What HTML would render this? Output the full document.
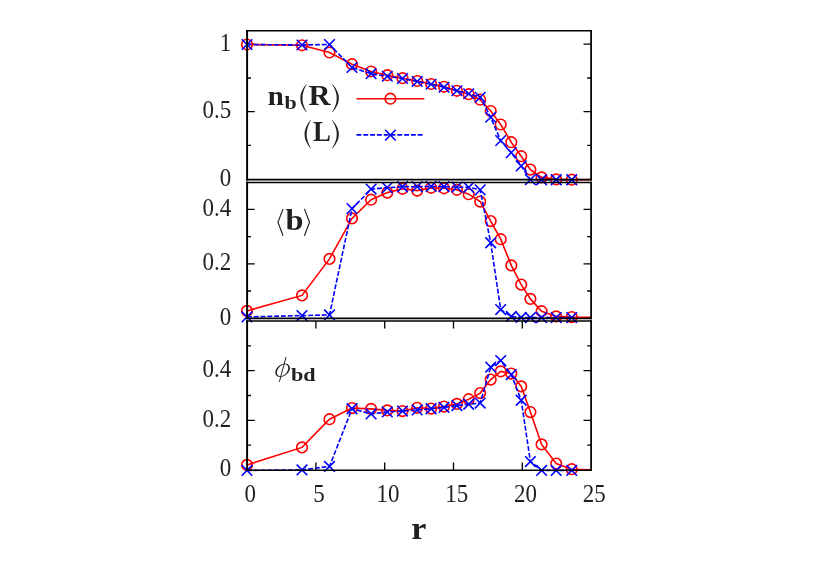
<!DOCTYPE html>
<html><head><meta charset="utf-8"><title>chart</title>
<style>
html,body{margin:0;padding:0;background:#fff;}
body{width:830px;height:583px;overflow:hidden;font-family:"Liberation Serif",serif;}
svg{display:block;}
text{font-family:"Liberation Serif",serif;fill:#231f20;}
.fb{stroke:#231f20;stroke-width:0.75px;stroke-linejoin:round;}
.b{font-weight:bold;}
.i{font-style:italic;}
</style></head><body>
<svg width="830" height="583" viewBox="0 0 830 583">
<rect width="830" height="583" fill="#fff"/>

<path d="M247.1 44.2h7.6M591.1 44.2h-7.6M247.1 111.7h7.6M591.1 111.7h-7.6M247.1 78.0h3.9M591.1 78.0h-3.9M247.1 145.4h3.9M591.1 145.4h-3.9" stroke="#000" stroke-width="1.3" fill="none"/>
<path d="M247.1 209.4h7.6M591.1 209.4h-7.6M247.1 263.8h7.6M591.1 263.8h-7.6M247.1 236.6h3.9M591.1 236.6h-3.9M247.1 291.0h3.9M591.1 291.0h-3.9" stroke="#000" stroke-width="1.3" fill="none"/>
<path d="M247.1 370.6h7.6M591.1 370.6h-7.6M247.1 420.4h7.6M591.1 420.4h-7.6M247.1 345.8h3.9M591.1 345.8h-3.9M247.1 395.5h3.9M591.1 395.5h-3.9M247.1 445.2h3.9M591.1 445.2h-3.9" stroke="#000" stroke-width="1.3" fill="none"/>
<path d="M315.9 470.2v-7.6M315.9 321.0v7.6M384.7 470.2v-7.6M384.7 321.0v7.6M453.5 470.2v-7.6M453.5 321.0v7.6M522.3 470.2v-7.6M522.3 321.0v7.6" stroke="#000" stroke-width="1.3" fill="none"/>
<polyline points="247.0,44.5 302.0,45.3 329.5,52.5 352.0,64.2 371.1,71.5 387.3,75.2 402.5,78.2 417.2,81.0 431.1,84.0 444.0,86.8 456.9,90.8 468.7,94.2 480.2,99.7 490.7,111.0 500.7,124.5 511.3,142.2 521.2,156.2 530.4,169.6 541.6,177.4 556.2,179.4 571.7,179.7 591.1,179.6" fill="none" stroke="#ff0000" stroke-width="1.6"/>
<g fill="none" stroke="#ff0000" stroke-width="1.6"><circle cx="247.0" cy="44.5" r="5.3"/><circle cx="302.0" cy="45.3" r="5.3"/><circle cx="329.5" cy="52.5" r="5.3"/><circle cx="352.0" cy="64.2" r="5.3"/><circle cx="371.1" cy="71.5" r="5.3"/><circle cx="387.3" cy="75.2" r="5.3"/><circle cx="402.5" cy="78.2" r="5.3"/><circle cx="417.2" cy="81.0" r="5.3"/><circle cx="431.1" cy="84.0" r="5.3"/><circle cx="444.0" cy="86.8" r="5.3"/><circle cx="456.9" cy="90.8" r="5.3"/><circle cx="468.7" cy="94.2" r="5.3"/><circle cx="480.2" cy="99.7" r="5.3"/><circle cx="490.7" cy="111.0" r="5.3"/><circle cx="500.7" cy="124.5" r="5.3"/><circle cx="511.3" cy="142.2" r="5.3"/><circle cx="521.2" cy="156.2" r="5.3"/><circle cx="530.4" cy="169.6" r="5.3"/><circle cx="541.6" cy="177.4" r="5.3"/><circle cx="556.2" cy="179.4" r="5.3"/><circle cx="571.7" cy="179.7" r="5.3"/></g>
<polyline points="247.0,44.5 302.0,45.0 329.5,44.5 352.0,67.5 371.1,73.7 387.3,76.2 402.5,78.5 417.2,81.5 431.1,84.2 444.0,87.2 456.9,90.8 468.7,93.8 480.2,97.2 490.7,117.2 500.7,140.7 511.3,152.7 521.2,165.9 530.4,179.7 541.6,179.8 556.2,179.8 571.7,179.8" fill="none" stroke="#0000ff" stroke-width="1.6" stroke-dasharray="4.9 1.9"/>
<g fill="none" stroke="#0000ff" stroke-width="1.6"><path d="M241.7 39.2L252.3 49.8M241.7 49.8L252.3 39.2"/><path d="M296.7 39.7L307.3 50.2M296.7 50.2L307.3 39.7"/><path d="M324.2 39.2L334.8 49.8M324.2 49.8L334.8 39.2"/><path d="M346.7 62.2L357.3 72.8M346.7 72.8L357.3 62.2"/><path d="M365.8 68.4L376.4 79.0M365.8 79.0L376.4 68.4"/><path d="M382.0 71.0L392.6 81.5M382.0 81.5L392.6 71.0"/><path d="M397.2 73.2L407.8 83.8M397.2 83.8L407.8 73.2"/><path d="M411.9 76.2L422.5 86.8M411.9 86.8L422.5 76.2"/><path d="M425.8 79.0L436.4 89.5M425.8 89.5L436.4 79.0"/><path d="M438.7 82.0L449.3 92.5M438.7 92.5L449.3 82.0"/><path d="M451.6 85.5L462.2 96.0M451.6 96.0L462.2 85.5"/><path d="M463.4 88.5L474.0 99.0M463.4 99.0L474.0 88.5"/><path d="M474.9 92.0L485.5 102.5M474.9 102.5L485.5 92.0"/><path d="M485.4 112.0L496.0 122.5M485.4 122.5L496.0 112.0"/><path d="M495.4 135.3L506.0 146.0M495.4 146.0L506.0 135.3"/><path d="M506.0 147.3L516.6 158.0M506.0 158.0L516.6 147.3"/><path d="M515.9 160.6L526.5 171.2M515.9 171.2L526.5 160.6"/><path d="M525.1 174.3L535.7 185.0M525.1 185.0L535.7 174.3"/><path d="M536.3 174.4L546.9 185.1M536.3 185.1L546.9 174.4"/><path d="M550.9 174.4L561.5 185.1M550.9 185.1L561.5 174.4"/><path d="M566.4 174.4L577.0 185.1M566.4 185.1L577.0 174.4"/></g>
<polyline points="247.0,310.9 302.0,295.4 329.5,258.9 352.0,218.4 371.1,199.7 387.3,192.6 402.5,188.8 417.2,190.6 431.1,187.8 444.0,188.3 456.9,189.8 468.7,194.2 480.2,201.6 490.7,221.1 500.7,239.2 511.3,265.4 521.2,284.6 530.4,298.9 541.6,311.2 556.2,316.4 571.7,317.1 591.1,317.4" fill="none" stroke="#ff0000" stroke-width="1.6"/>
<g fill="none" stroke="#ff0000" stroke-width="1.6"><circle cx="247.0" cy="310.9" r="5.3"/><circle cx="302.0" cy="295.4" r="5.3"/><circle cx="329.5" cy="258.9" r="5.3"/><circle cx="352.0" cy="218.4" r="5.3"/><circle cx="371.1" cy="199.7" r="5.3"/><circle cx="387.3" cy="192.6" r="5.3"/><circle cx="402.5" cy="188.8" r="5.3"/><circle cx="417.2" cy="190.6" r="5.3"/><circle cx="431.1" cy="187.8" r="5.3"/><circle cx="444.0" cy="188.3" r="5.3"/><circle cx="456.9" cy="189.8" r="5.3"/><circle cx="468.7" cy="194.2" r="5.3"/><circle cx="480.2" cy="201.6" r="5.3"/><circle cx="490.7" cy="221.1" r="5.3"/><circle cx="500.7" cy="239.2" r="5.3"/><circle cx="511.3" cy="265.4" r="5.3"/><circle cx="521.2" cy="284.6" r="5.3"/><circle cx="530.4" cy="298.9" r="5.3"/><circle cx="541.6" cy="311.2" r="5.3"/><circle cx="556.2" cy="316.4" r="5.3"/><circle cx="571.7" cy="317.1" r="5.3"/></g>
<polyline points="247.0,316.9 302.0,315.6 329.5,314.9 352.0,208.7 371.1,189.1 387.3,187.7 402.5,186.8 417.2,186.7 431.1,186.3 444.0,186.7 456.9,187.2 468.7,187.3 480.2,189.8 490.7,242.8 500.7,309.6 511.3,316.4 521.2,317.4 530.4,317.6 541.6,317.6 556.2,317.6 571.7,317.6" fill="none" stroke="#0000ff" stroke-width="1.6" stroke-dasharray="4.9 1.9"/>
<g fill="none" stroke="#0000ff" stroke-width="1.6"><path d="M241.7 311.6L252.3 322.2M241.7 322.2L252.3 311.6"/><path d="M296.7 310.2L307.3 320.9M296.7 320.9L307.3 310.2"/><path d="M324.2 309.6L334.8 320.2M324.2 320.2L334.8 309.6"/><path d="M346.7 203.3L357.3 214.0M346.7 214.0L357.3 203.3"/><path d="M365.8 183.8L376.4 194.4M365.8 194.4L376.4 183.8"/><path d="M382.0 182.3L392.6 193.0M382.0 193.0L392.6 182.3"/><path d="M397.2 181.4L407.8 192.1M397.2 192.1L407.8 181.4"/><path d="M411.9 181.3L422.5 192.0M411.9 192.0L422.5 181.3"/><path d="M425.8 181.0L436.4 191.7M425.8 191.7L436.4 181.0"/><path d="M438.7 181.3L449.3 192.0M438.7 192.0L449.3 181.3"/><path d="M451.6 181.8L462.2 192.5M451.6 192.5L462.2 181.8"/><path d="M463.4 182.0L474.0 192.7M463.4 192.7L474.0 182.0"/><path d="M474.9 184.5L485.5 195.2M474.9 195.2L485.5 184.5"/><path d="M485.4 237.4L496.0 248.1M485.4 248.1L496.0 237.4"/><path d="M495.4 304.3L506.0 314.9M495.4 314.9L506.0 304.3"/><path d="M506.0 311.1L516.6 321.7M506.0 321.7L516.6 311.1"/><path d="M515.9 312.1L526.5 322.8M515.9 322.8L526.5 312.1"/><path d="M525.1 312.3L535.7 322.9M525.1 322.9L535.7 312.3"/><path d="M536.3 312.3L546.9 322.9M536.3 322.9L546.9 312.3"/><path d="M550.9 312.3L561.5 322.9M550.9 322.9L561.5 312.3"/><path d="M566.4 312.3L577.0 322.9M566.4 322.9L577.0 312.3"/></g>
<polyline points="247.0,464.9 302.0,447.4 329.5,419.2 352.0,408.1 371.1,408.9 387.3,410.4 402.5,411.1 417.2,407.8 431.1,408.6 444.0,406.6 456.9,403.9 468.7,399.2 480.2,393.1 490.7,379.6 500.7,371.4 511.3,373.6 521.2,386.4 530.4,412.1 541.6,444.4 556.2,463.6 571.7,469.2 591.1,469.9" fill="none" stroke="#ff0000" stroke-width="1.6"/>
<g fill="none" stroke="#ff0000" stroke-width="1.6"><circle cx="247.0" cy="464.9" r="5.3"/><circle cx="302.0" cy="447.4" r="5.3"/><circle cx="329.5" cy="419.2" r="5.3"/><circle cx="352.0" cy="408.1" r="5.3"/><circle cx="371.1" cy="408.9" r="5.3"/><circle cx="387.3" cy="410.4" r="5.3"/><circle cx="402.5" cy="411.1" r="5.3"/><circle cx="417.2" cy="407.8" r="5.3"/><circle cx="431.1" cy="408.6" r="5.3"/><circle cx="444.0" cy="406.6" r="5.3"/><circle cx="456.9" cy="403.9" r="5.3"/><circle cx="468.7" cy="399.2" r="5.3"/><circle cx="480.2" cy="393.1" r="5.3"/><circle cx="490.7" cy="379.6" r="5.3"/><circle cx="500.7" cy="371.4" r="5.3"/><circle cx="511.3" cy="373.6" r="5.3"/><circle cx="521.2" cy="386.4" r="5.3"/><circle cx="530.4" cy="412.1" r="5.3"/><circle cx="541.6" cy="444.4" r="5.3"/><circle cx="556.2" cy="463.6" r="5.3"/><circle cx="571.7" cy="469.2" r="5.3"/></g>
<polyline points="247.0,470.4 302.0,469.9 329.5,466.4 352.0,408.8 371.1,413.9 387.3,411.9 402.5,411.1 417.2,409.9 431.1,408.8 444.0,407.4 456.9,405.6 468.7,404.2 480.2,403.1 490.7,367.1 500.7,360.6 511.3,374.6 521.2,400.2 530.4,461.6 541.6,470.4 556.2,470.4 571.7,470.4" fill="none" stroke="#0000ff" stroke-width="1.6" stroke-dasharray="4.9 1.9"/>
<g fill="none" stroke="#0000ff" stroke-width="1.6"><path d="M241.7 465.1L252.3 475.7M241.7 475.7L252.3 465.1"/><path d="M296.7 464.6L307.3 475.2M296.7 475.2L307.3 464.6"/><path d="M324.2 461.1L334.8 471.8M324.2 471.8L334.8 461.1"/><path d="M346.7 403.4L357.3 414.1M346.7 414.1L357.3 403.4"/><path d="M365.8 408.6L376.4 419.2M365.8 419.2L376.4 408.6"/><path d="M382.0 406.6L392.6 417.2M382.0 417.2L392.6 406.6"/><path d="M397.2 405.8L407.8 416.4M397.2 416.4L407.8 405.8"/><path d="M411.9 404.6L422.5 415.2M411.9 415.2L422.5 404.6"/><path d="M425.8 403.4L436.4 414.1M425.8 414.1L436.4 403.4"/><path d="M438.7 402.1L449.3 412.8M438.7 412.8L449.3 402.1"/><path d="M451.6 400.2L462.2 410.9M451.6 410.9L462.2 400.2"/><path d="M463.4 398.9L474.0 409.6M463.4 409.6L474.0 398.9"/><path d="M474.9 397.8L485.5 408.4M474.9 408.4L485.5 397.8"/><path d="M485.4 361.8L496.0 372.4M485.4 372.4L496.0 361.8"/><path d="M495.4 355.3L506.0 365.9M495.4 365.9L506.0 355.3"/><path d="M506.0 369.2L516.6 379.9M506.0 379.9L516.6 369.2"/><path d="M515.9 394.9L526.5 405.6M515.9 405.6L526.5 394.9"/><path d="M525.1 456.2L535.7 466.9M525.1 466.9L535.7 456.2"/><path d="M536.3 465.1L546.9 475.8M536.3 475.8L546.9 465.1"/><path d="M550.9 465.1L561.5 475.8M550.9 475.8L561.5 465.1"/><path d="M566.4 465.1L577.0 475.8M566.4 475.8L577.0 465.1"/></g>
<path d="M356.5 98.7H424.3" stroke="#ff0000" stroke-width="1.6" fill="none"/>
<circle cx="390.4" cy="98.7" r="5.3" fill="none" stroke="#ff0000" stroke-width="1.6"/>
<path d="M356.5 134.9H423.5" stroke="#0000ff" stroke-width="1.6" stroke-dasharray="4.9 1.9" fill="none"/>
<g fill="none" stroke="#0000ff" stroke-width="1.6"><path d="M385.1 129.8L395.7 140.5M385.1 140.5L395.7 129.8"/></g>
<path d="M246.12 30.7H591.98" stroke="#000" stroke-width="1.5" fill="none"/>
<path d="M246.12 179.6H591.98" stroke="#000" stroke-width="1.9" fill="none"/>
<path d="M246.12 182.4H591.98" stroke="#000" stroke-width="1.5" fill="none"/>
<path d="M246.12 318.4H591.98" stroke="#000" stroke-width="1.8" fill="none"/>
<path d="M246.12 321.0H591.98" stroke="#000" stroke-width="1.6" fill="none"/>
<path d="M246.12 470.2H591.98" stroke="#000" stroke-width="1.5" fill="none"/>
<path d="M247.1 29.95V180.54999999999998" stroke="#000" stroke-width="1.95" fill="none"/>
<path d="M591.1 29.95V180.54999999999998" stroke="#000" stroke-width="1.75" fill="none"/>
<path d="M247.1 181.65V319.29999999999995" stroke="#000" stroke-width="1.95" fill="none"/>
<path d="M591.1 181.65V319.29999999999995" stroke="#000" stroke-width="1.75" fill="none"/>
<path d="M247.1 320.2V470.95" stroke="#000" stroke-width="1.95" fill="none"/>
<path d="M591.1 320.2V470.95" stroke="#000" stroke-width="1.75" fill="none"/>
<g opacity="0.999">
<text transform="translate(231.30 50.50) scale(0.945 1.0)" font-size="24.3" text-anchor="end">1</text>
<text transform="translate(231.30 117.90) scale(0.945 1.0)" font-size="24.3" text-anchor="end">0.5</text>
<text transform="translate(231.30 186.00) scale(0.945 1.0)" font-size="24.3" text-anchor="end">0</text>
<text transform="translate(231.30 216.00) scale(0.945 1.0)" font-size="24.3" text-anchor="end">0.4</text>
<text transform="translate(231.30 270.40) scale(0.945 1.0)" font-size="24.3" text-anchor="end">0.2</text>
<text transform="translate(231.30 324.60) scale(0.945 1.0)" font-size="24.3" text-anchor="end">0</text>
<text transform="translate(231.30 377.40) scale(0.945 1.0)" font-size="24.3" text-anchor="end">0.4</text>
<text transform="translate(231.30 427.00) scale(0.945 1.0)" font-size="24.3" text-anchor="end">0.2</text>
<text transform="translate(231.30 476.40) scale(0.945 1.0)" font-size="24.3" text-anchor="end">0</text>
<text transform="translate(250.30 502.00) scale(0.945 1.0)" font-size="24.3" text-anchor="middle">0</text>
<text transform="translate(319.10 502.00) scale(0.945 1.0)" font-size="24.3" text-anchor="middle">5</text>
<text transform="translate(387.90 502.00) scale(0.945 1.0)" font-size="24.3" text-anchor="middle">10</text>
<text transform="translate(456.70 502.00) scale(0.945 1.0)" font-size="24.3" text-anchor="middle">15</text>
<text transform="translate(525.50 502.00) scale(0.945 1.0)" font-size="24.3" text-anchor="middle">20</text>
<text transform="translate(594.30 502.00) scale(0.945 1.0)" font-size="24.3" text-anchor="middle">25</text>
<text class="b" transform="translate(411.20 538.80) scale(1.1 1.04)" font-size="31" text-anchor="start">r</text>
<text class="b" transform="translate(267.80 105.20) scale(1.05 1.0)" font-size="27.5" text-anchor="start">n</text>
<text class="b" transform="translate(284.60 109.00) scale(1.33 1.12)" font-size="16.5" text-anchor="start">b</text>
<path d="M306.20 84.20Q294.40 98.15 306.20 112.10L306.80 112.10Q298.10 98.15 306.80 84.20Z" fill="#231f20"/>
<text class="b" transform="translate(308.60 105.20) scale(1.04 1.0)" font-size="29.3" text-anchor="start">R</text>
<path d="M332.50 84.20Q345.30 98.15 332.50 112.10L331.90 112.10Q341.60 98.15 331.90 84.20Z" fill="#231f20"/>
<path d="M310.40 120.30Q298.60 134.30 310.40 148.30L311.00 148.30Q302.30 134.30 311.00 120.30Z" fill="#231f20"/>
<text class="b" transform="translate(313.00 140.60) scale(0.925 1.0)" font-size="29.0" text-anchor="start">L</text>
<path d="M332.50 120.30Q345.30 134.30 332.50 148.30L331.90 148.30Q341.60 134.30 331.90 120.30Z" fill="#231f20"/>
<path d="M283.1 208.9L277.95 222.2L283.1 235.7" fill="none" stroke="#231f20" stroke-width="1.15"/>
<text class="b" transform="translate(285.40 229.60) scale(1.105 1.0)" font-size="29.2" text-anchor="start">b</text>
<path d="M304.4 208.9L309.55 222.2L304.4 235.7" fill="none" stroke="#231f20" stroke-width="1.15"/>
<g transform="translate(282.6 370.3) skewX(-20)"><path fill="#231f20" fill-rule="evenodd" d="M-6.9 0A6.9 6.8 0 1 0 6.9 0A6.9 6.8 0 1 0 -6.9 0ZM-5.25 0A5.25 6.05 0 1 0 5.25 0A5.25 6.05 0 1 0 -5.25 0Z"/></g>
<path d="M286.0 357.0L279.4 381.8" stroke="#231f20" stroke-width="1.0" fill="none"/>
<text class="b" transform="translate(291.00 380.60) scale(1.135 1.0)" font-size="19.5" text-anchor="start">bd</text>
</g>
</svg></body></html>
